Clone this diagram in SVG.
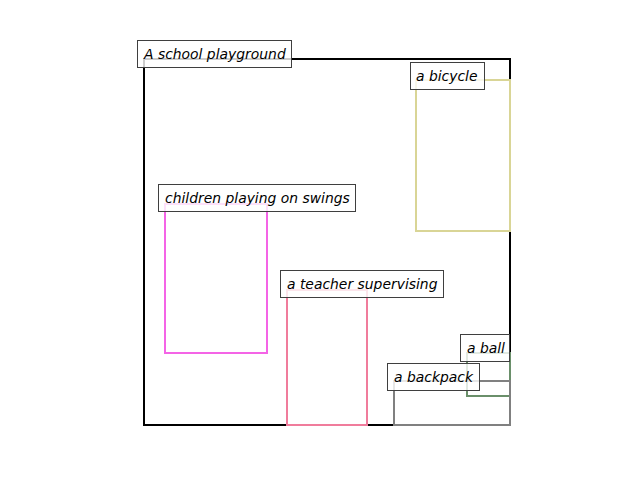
<svg xmlns="http://www.w3.org/2000/svg" width="640" height="480" viewBox="0 0 640 480">
<style>
.r{fill:none;stroke-width:2}
.lb{fill:#ffffff;fill-opacity:0.8;stroke:#3f3f3f;stroke-width:1}
.t{font-family:"DejaVu Sans",sans-serif;font-style:italic;font-size:13.9px;fill:#000}
</style>
<rect width="640" height="480" fill="#ffffff"/>
<g id="connectors"></g>
<g id="playground"><rect class="r" x="144" y="59" width="366" height="366" stroke="#000000"/></g>
<g id="bicycle"><rect class="r" x="416" y="80" width="94" height="151" stroke="#d9d596"/></g>
<g id="swings"><rect class="r" x="165" y="204" width="102" height="149" stroke="#f464e6"/></g>
<g id="teacher"><rect class="r" x="287" y="290" width="80" height="135" stroke="#f07c9c"/></g>
<g id="ball"><rect class="r" x="467" y="353" width="43" height="43" stroke="#6a8f6a"/></g>
<g id="backpack"><rect class="r" x="394" y="381" width="116" height="44" stroke="#808080"/></g>
<g id="label-playground"><rect class="lb" x="137.5" y="40.5" width="154" height="27"/><text class="t" x="144" y="59">A school playground</text></g>
<g id="label-bicycle"><rect class="lb" x="410.5" y="62.5" width="74" height="27"/><text class="t" x="416" y="81">a bicycle</text></g>
<g id="label-swings"><rect class="lb" x="158.5" y="184.5" width="197" height="27"/><text class="t" x="165" y="203">children playing on swings</text></g>
<g id="label-teacher"><rect class="lb" x="280.5" y="270.5" width="163" height="27"/><text class="t" x="287" y="289">a teacher supervising</text></g>
<g id="label-ball"><rect class="lb" x="460.5" y="334.5" width="49" height="27"/><text class="t" x="467" y="353">a ball</text></g>
<g id="label-backpack"><rect class="lb" x="387.5" y="363.5" width="92" height="27"/><text class="t" x="394" y="382">a backpack</text></g>
</svg>
